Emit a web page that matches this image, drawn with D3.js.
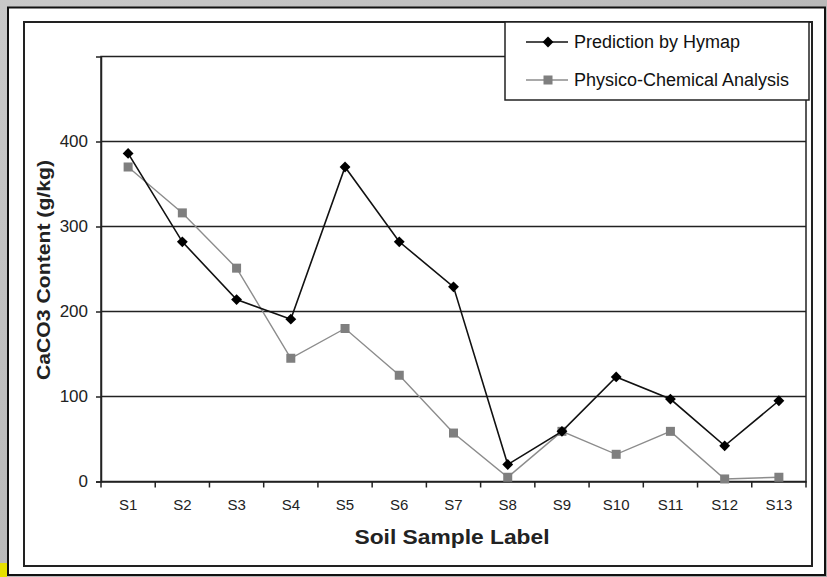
<!DOCTYPE html>
<html><head><meta charset="utf-8">
<script src="https://cdn.jsdelivr.net/npm/d3@7"></script>
<style>body{margin:0;padding:0;overflow:hidden;background:#bdbdbd}svg{display:block}</style>
</head><body>
<script>
const categories = ["S1","S2","S3","S4","S5","S6","S7","S8","S9","S10","S11","S12","S13"];
const hymap = [386, 282, 214, 191, 370, 282, 229, 20, 59, 123, 97, 42, 95];
const physico = [370, 316, 251, 145, 180, 125, 57, 5, 59, 32, 59, 3, 5];
const yTicks = [0, 100, 200, 300, 400];
const seriesNames = ["Prediction by Hymap", "Physico-Chemical Analysis"];

const W = 827, H = 577;
const svg = d3.select("body").append("svg").attr("width", W).attr("height", H);
const defs = svg.append("defs");
const g1 = defs.append("linearGradient").attr("id","bg").attr("x1","0").attr("y1","0").attr("x2","1").attr("y2","1");
g1.append("stop").attr("offset","0").attr("stop-color","#c9c9c9");
g1.append("stop").attr("offset","0.5").attr("stop-color","#b9b9b9");
g1.append("stop").attr("offset","1").attr("stop-color","#a9a9a9");
svg.append("rect").attr("width",W).attr("height",H).attr("fill","url(#bg)");
svg.append("rect").attr("x",0).attr("y",563).attr("width",7).attr("height",14).attr("fill","#e6e000");
// outer white panel
svg.append("rect").attr("x",8).attr("y",7.5).attr("width",817).attr("height",567.5).attr("fill","#fff").attr("stroke","#111").attr("stroke-width",2);
// inner border
svg.append("rect").attr("x",24).attr("y",22).attr("width",788).attr("height",544).attr("fill","#fff").attr("stroke","#222").attr("stroke-width",2);

const L = 101, R = 806, T = 56.5, B = 481.5;
const x = d3.scaleBand().domain(categories).range([L, R]);
const y = d3.scaleLinear().domain([0, 500]).range([B, T]);

// gridlines
svg.append("g").selectAll("line").data(yTicks.filter(d=>d>0)).join("line")
  .attr("x1",L).attr("x2",R).attr("y1",d=>y(d)).attr("y2",d=>y(d))
  .attr("stroke","#222").attr("stroke-width",1.5);
// plot frame top/right
svg.append("rect").attr("x",L).attr("y",T).attr("width",R-L).attr("height",B-T)
  .attr("fill","none").attr("stroke","#222").attr("stroke-width",1.5);

const font = "'Liberation Sans', Arial, sans-serif";
// y axis
const ya = svg.append("g").attr("transform",`translate(${L},0)`)
  .call(d3.axisLeft(y).tickValues(yTicks).tickSize(5).tickPadding(8));
ya.select(".domain").attr("stroke","#222").attr("stroke-width",1.5);
ya.selectAll(".tick line").attr("stroke","#222").attr("stroke-width",1.5);
ya.selectAll("text").attr("font-family",font).attr("font-size",17).attr("fill","#222");

// x axis with ticks at band boundaries
const xa = svg.append("g").attr("transform",`translate(0,${B})`)
  .call(d3.axisBottom(x).tickSize(0).tickPadding(18));
xa.select(".domain").attr("stroke","#222").attr("stroke-width",1.5);
xa.selectAll("text").attr("font-family",font).attr("font-size",15).attr("fill","#222");
svg.append("g").selectAll("line").data(categories.concat(["_end"])).join("line")
  .attr("x1",(d,i)=>L + i*x.bandwidth()).attr("x2",(d,i)=>L + i*x.bandwidth())
  .attr("y1",B).attr("y2",B+6).attr("stroke","#222").attr("stroke-width",1.5);

const cx = d => x(d) + x.bandwidth()/2;
const line = d3.line().x(d=>cx(d.c)).y(d=>y(d.v));
const pData = categories.map((c,i)=>({c, v: physico[i]}));
const hData = categories.map((c,i)=>({c, v: hymap[i]}));

svg.append("path").datum(pData).attr("d",line).attr("fill","none").attr("stroke","#8c8c8c").attr("stroke-width",1.4);
svg.append("g").selectAll("rect").data(pData).join("rect")
  .attr("x",d=>cx(d.c)-4.5).attr("y",d=>y(d.v)-4.5).attr("width",9).attr("height",9).attr("fill","#7f7f7f");

svg.append("path").datum(hData).attr("d",line).attr("fill","none").attr("stroke","#111").attr("stroke-width",1.6);
const diamond = d3.symbol().type(d3.symbolDiamond2).size(75);
svg.append("g").selectAll("path").data(hData).join("path")
  .attr("transform",d=>`translate(${cx(d.c)},${y(d.v)})`).attr("d",diamond).attr("fill","#000");

// legend
const lg = svg.append("g");
lg.append("rect").attr("x",505).attr("y",22).attr("width",304).attr("height",78).attr("fill","#fff").attr("stroke","#222").attr("stroke-width",1.5);
const rows = [{n:seriesNames[0], y:42, col:"#111", m:"d"},{n:seriesNames[1], y:80, col:"#8c8c8c", m:"s"}];
rows.forEach(r=>{
  lg.append("line").attr("x1",526).attr("x2",568).attr("y1",r.y).attr("y2",r.y).attr("stroke",r.col).attr("stroke-width",1.5);
  if (r.m==="d") lg.append("path").attr("transform",`translate(548,${r.y})`).attr("d",diamond).attr("fill","#000");
  else lg.append("rect").attr("x",543.5).attr("y",r.y-4.5).attr("width",9).attr("height",9).attr("fill","#7f7f7f");
  lg.append("text").attr("x",574).attr("y",r.y+6).attr("font-family",font).attr("font-size",18).attr("fill","#111").text(r.n);
});

// axis titles
svg.append("text").attr("transform","translate(50,270) rotate(-90)").attr("text-anchor","middle")
  .attr("font-family",font).attr("font-weight","bold").attr("font-size",19).attr("fill","#222")
  .attr("textLength",220).attr("lengthAdjust","spacingAndGlyphs").text("CaCO3 Content (g/kg)");
svg.append("text").attr("x",452).attr("y",544).attr("text-anchor","middle")
  .attr("font-family",font).attr("font-weight","bold").attr("font-size",20).attr("fill","#222")
  .attr("textLength",195).attr("lengthAdjust","spacingAndGlyphs").text("Soil Sample Label");
</script>
</body></html>
